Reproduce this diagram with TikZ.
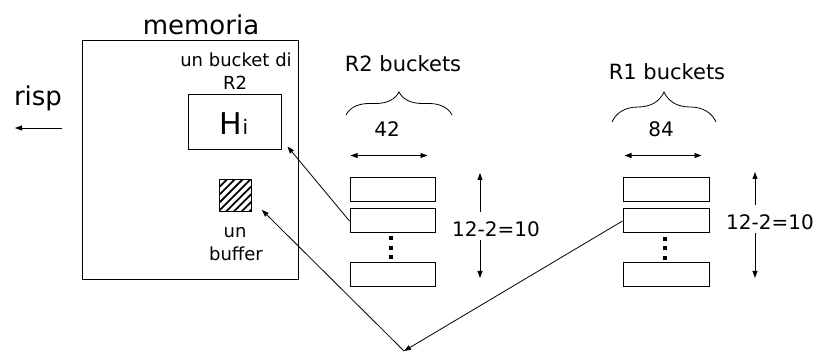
\documentclass[tikz,border=0pt]{standalone}
\usepackage{fontspec}
\setmainfont{DejaVu Sans}
\usetikzlibrary{arrows.meta,decorations.pathreplacing,patterns.meta}

\begin{document}
\begin{tikzpicture}[x=1pt,y=-1pt,
  box/.style={draw,line width=1pt,inner sep=0pt},
  arr/.style={-{Triangle[length=7pt,width=5pt]},line width=0.8pt},
  dbl/.style={{Triangle[length=7pt,width=5pt]}-{Triangle[length=7pt,width=5pt]},line width=0.8pt},
  brc/.style={decorate,decoration={brace,amplitude=#1},line width=0.8pt},
  txt/.style={inner sep=0pt,anchor=base,font=\fontsize{#1}{#1}\selectfont}]
  \useasboundingbox (0,0) rectangle (816,352);

  % memory with its bucket and buffer
  \node[box,minimum width=216pt,minimum height=239pt] (mem) at (190,160.5) {};
  \node[txt=26] (memlbl) at (201,35) {memoria};
  \node[txt=18] (bucklbl) at (236,67) {un bucket di};
  \node[txt=18] (bucklbltwo) at (235,90) {R2};
  \node[box,minimum width=93pt,minimum height=55pt] (hi) at (234.5,122.5) {};
  \node[txt=30] (hitxt) at (234,135) {H{\fontsize{20}{20}\selectfont i}};
  \node[box,minimum size=32pt,
        pattern={Lines[angle=45,distance=5.5pt,line width=1.8pt]}] (buf) at (235,196) {};
  \node[txt=18] (buflbl) at (235,238) {un};
  \node[txt=18] (buflbltwo) at (236,261) {buffer};

  % output
  \node[txt=26] (risp) at (38,106) {risp};
  \coordinate (rispstart) at (62,128);
  \coordinate (rispend) at (15,128);
  \draw[arr] (rispstart) -- (rispend);

  % R2 buckets
  \node[txt=21] (rtwolbl) at (403,72) {R2 buckets};
  \draw[brc=23pt] (346,115) -- (452,115);
  \node[txt=20] (rtwow) at (387,137) {42};
  \foreach \n/\y in {a/190,b/221,c/275}
    \node[box,minimum width=85pt,minimum height=24pt] (r2\n) at (392.5,\y) {};
  \foreach \y in {236,246,255}
    \fill (389,\y) rectangle ++(4,4);
  \draw[dbl] ([yshift=22pt,xshift=1pt]r2a.north west) -- ([yshift=22pt,xshift=-8pt]r2a.north east);
  \node[txt=20] (rtwoh) at (496,237) {12-2=10};
  \coordinate (rtwoup) at (480,173);
  \coordinate (rtwodn) at (480,278);
  \draw[arr] ([yshift=10pt]rtwoh.north -| rtwoup) -- (rtwoup);
  \draw[arr] ([yshift=-3pt]rtwoh.south -| rtwodn) -- (rtwodn);

  % R1 buckets
  \node[txt=21] (ronelbl) at (667,80) {R1 buckets};
  \draw[brc=30pt] (612,122) -- (716,122);
  \node[txt=20] (ronew) at (661,137) {84};
  \foreach \n/\y in {a/190,b/221,c/275}
    \node[box,minimum width=86pt,minimum height=24pt] (r1\n) at (666,\y) {};
  \foreach \y in {237,246,256}
    \fill (663,\y) rectangle ++(4,4);
  \draw[dbl] ([yshift=22pt,xshift=2pt]r1a.north west) -- ([yshift=22pt,xshift=-8pt]r1a.north east);
  \node[txt=20] (roneh) at (770,230) {12-2=10};
  \coordinate (roneup) at (755,172);
  \coordinate (ronedn) at (755,278);
  \draw[arr] ([yshift=10pt]roneh.north -| roneup) -- (roneup);
  \draw[arr] ([yshift=-3pt]roneh.south -| ronedn) -- (ronedn);

  % reading the buckets
  \draw[arr] (r2b.west) -- ([shift={(6,-4)}]hi.south east);
  \coordinate (bot) at (404,351);
  \draw[arr] (r1b.west) -- (bot);
  \draw[arr] (bot) -- ([shift={(10,-3)}]buf.south east);
\end{tikzpicture}
\end{document}
